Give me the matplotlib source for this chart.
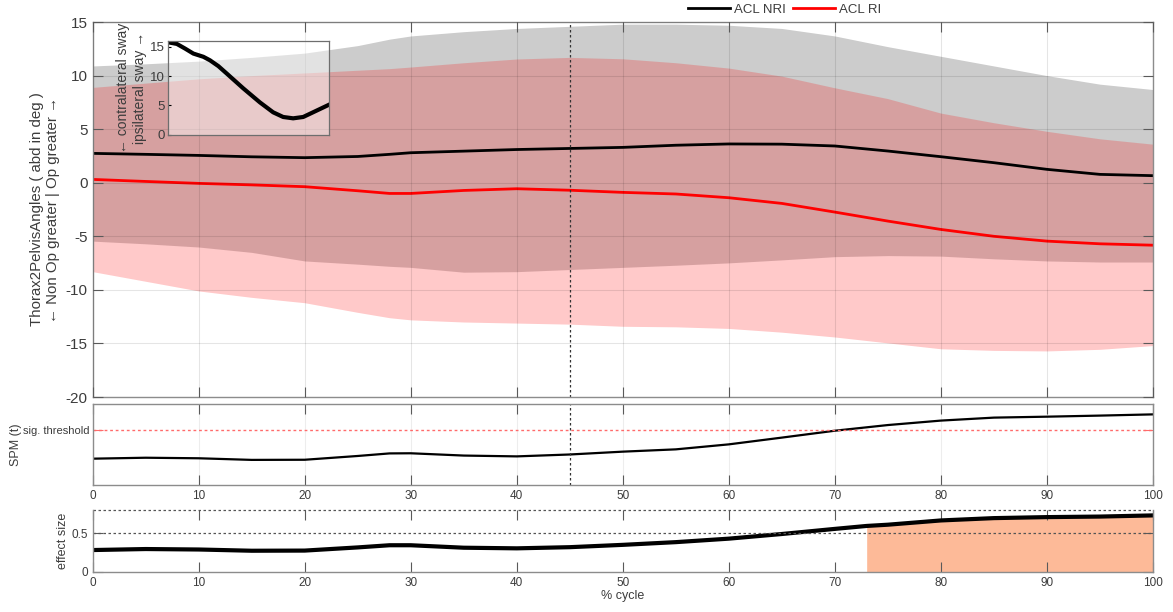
import numpy as np
import matplotlib
matplotlib.use("Agg")
import matplotlib.pyplot as plt
from matplotlib.lines import Line2D

plt.rcParams['font.family'] = ['Liberation Sans', 'DejaVu Sans']
plt.rcParams['axes.unicode_minus'] = False

# % cycle sample points
cycle = [0, 5, 10, 15, 20, 25, 28, 30, 35, 40, 45, 50, 55, 60, 65, 70, 75, 80, 85, 90, 95, 100]

# ACL NRI (mean, mean+sd, mean-sd)
nri_mean = [2.74, 2.65, 2.55, 2.42, 2.34, 2.45, 2.65, 2.8, 2.95, 3.1, 3.2, 3.3, 3.5, 3.62, 3.6, 3.43, 2.96, 2.43, 1.87, 1.25, 0.78, 0.66]
nri_upper = [10.9, 11.1, 11.35, 11.7, 12.1, 12.8, 13.4, 13.7, 14.1, 14.4, 14.6, 14.8, 14.8, 14.7, 14.4, 13.7, 12.7, 11.8, 10.9, 10.0, 9.2, 8.7]
nri_lower = [-5.45, -5.7, -6.0, -6.5, -7.3, -7.6, -7.8, -7.9, -8.35, -8.3, -8.1, -7.9, -7.7, -7.48, -7.2, -6.9, -6.8, -6.85, -7.1, -7.3, -7.4, -7.4]

# ACL RI
ri_mean = [0.31, 0.12, -0.06, -0.2, -0.37, -0.75, -1.0, -1.0, -0.72, -0.56, -0.7, -0.9, -1.05, -1.4, -1.93, -2.74, -3.58, -4.36, -5.0, -5.45, -5.7, -5.83]
ri_upper = [8.9, 9.3, 9.7, 10.0, 10.25, 10.5, 10.65, 10.8, 11.2, 11.55, 11.7, 11.57, 11.2, 10.7, 9.95, 8.86, 7.85, 6.5, 5.6, 4.8, 4.1, 3.6]
ri_lower = [-8.3, -9.2, -10.1, -10.7, -11.2, -12.1, -12.6, -12.8, -13.0, -13.1, -13.2, -13.4, -13.45, -13.6, -13.95, -14.4, -14.95, -15.5, -15.65, -15.7, -15.55, -15.2]

# SPM{t}
spm_t = [0.45, 0.52, 0.48, 0.36, 0.37, 0.65, 0.84, 0.85, 0.68, 0.62, 0.76, 0.97, 1.14, 1.51, 2.01, 2.52, 2.94, 3.27, 3.49, 3.56, 3.64, 3.73]
spm_threshold = 2.6
spm_ylim = (-1.5, 4.5)

# effect size
es_cycle = [0, 5, 10, 15, 20, 25, 28, 30, 35, 40, 45, 50, 55, 60, 65, 70, 73, 75, 80, 85, 90, 95, 100]
es_value = [0.283, 0.296, 0.29, 0.274, 0.276, 0.317, 0.345, 0.345, 0.313, 0.305, 0.32, 0.35, 0.385, 0.43, 0.49, 0.556, 0.594, 0.61, 0.665, 0.695, 0.708, 0.715, 0.73]
es_ref = 0.5
es_top = 0.8
sig_start = 73

# inset curve
inset_x = [0, 5.8, 10.9, 16, 22.2, 26.3, 31.5, 36.6, 46.9, 57.2, 65.4, 71.6, 77.8, 84, 90.1, 100]
inset_y = [15.8, 15.5, 14.7, 13.85, 13.3, 12.7, 11.7, 10.45, 7.9, 5.5, 3.8, 3.0, 2.77, 3.0, 3.8, 5.1]

event_x = 45
xticks = list(range(0, 101, 10))

spine_c = '#8c8c8c'
text_c = '#3c3c3c'


def style_axes(a, fs):
    for s in a.spines.values():
        s.set_color(spine_c)
        s.set_linewidth(1.0)
    a.tick_params(direction='in', length=7, width=0.8, color='#5a5a5a',
                  top=True, right=True, labelcolor=text_c, labelsize=fs)


fig = plt.figure(figsize=(11.73, 6.12), dpi=100)

# main panel
ax = fig.add_axes([0.0790, 0.3513, 0.9039, 0.6127])
ax.fill_between(cycle, nri_lower, nri_upper, color='#cccccc', lw=0)
ax.plot(cycle, nri_mean, color='black', lw=2.0)
ax.fill_between(cycle, ri_lower, ri_upper, color='red', alpha=0.21, lw=0)
ax.plot(cycle, ri_mean, color='red', lw=2.0)
ax.axvline(event_x, color='#333333', lw=0.9, ls=(0, (2, 2)))
ax.set_xlim(0, 100)
ax.set_ylim(-20, 15)
ax.set_xticks(xticks)
ax.set_xticklabels([])
ax.set_yticks(range(-20, 16, 5))
ax.set_axisbelow(False)
ax.grid(True, color='black', alpha=0.1, lw=0.8)
style_axes(ax, 11)
ax.set_ylabel('Thorax2PelvisAngles ( abd in deg )\n\u2190 Non Op greater | Op greater \u2192',
              fontsize=10.8, color=text_c, labelpad=4)

# inset
axi = fig.add_axes([0.1428, 0.7802, 0.1377, 0.1528])
axi.set_facecolor((1, 1, 1, 0.45))
axi.plot(inset_x, inset_y, color='black', lw=3.0)
axi.set_xlim(0, 100)
axi.set_ylim(0, 16)
axi.set_xticks([])
axi.set_yticks([0, 5, 10, 15])
for s in axi.spines.values():
    s.set_color('#6e6e6e')
    s.set_linewidth(0.9)
axi.tick_params(axis='y', direction='in', length=2, labelsize=9.5, labelcolor=text_c, pad=2)
axi.set_ylabel('\u2190 contralateral sway\nipsilateral sway \u2192', fontsize=10,
               color=text_c, labelpad=2, linespacing=1.25)

# SPM panel
ax2 = fig.add_axes([0.0790, 0.2075, 0.9039, 0.1324])
ax2.plot(cycle, spm_t, color='black', lw=1.6)
ax2.axhline(spm_threshold, color='#ff6b6b', lw=1.0, ls=(0, (2, 2)))
ax2.axvline(event_x, color='#333333', lw=0.9, ls=(0, (2, 2)))
ax2.set_xlim(0, 100)
ax2.set_ylim(*spm_ylim)
ax2.set_xticks(xticks)
ax2.set_yticks([spm_threshold])
ax2.set_yticklabels(['sig. threshold'])
ax2.grid(True, axis='x', color='black', alpha=0.07, lw=0.8)
style_axes(ax2, 8.5)
ax2.tick_params(axis='y', labelsize=8, pad=2)
ax2.tick_params(axis='y', which='both', color='#ff6b6b')
ax2.set_ylabel('SPM (t)', fontsize=9, color=text_c, labelpad=1)

# effect size panel
ax3 = fig.add_axes([0.0790, 0.0654, 0.9039, 0.1013])
es_x = np.array(es_cycle)
es_v = np.array(es_value)
ax3.fill_between(es_x, 0, es_v, where=es_x >= sig_start, color='#fdba98', lw=0)
ax3.plot(es_cycle, es_value, color='black', lw=3.0)
ax3.axhline(es_ref, color='#555555', lw=0.9, ls=(0, (2, 2)))
ax3.axhline(es_top, color='#555555', lw=0.9, ls=(0, (2, 2)), clip_on=False)
ax3.set_xlim(0, 100)
ax3.set_ylim(0, es_top)
ax3.set_xticks(xticks)
ax3.set_yticks([0, es_ref])
ax3.set_yticklabels(['0', '0.5'])
style_axes(ax3, 8.5)
ax3.spines['top'].set_visible(False)
ax3.set_ylabel('effect size', fontsize=9, color=text_c, labelpad=2)
ax3.set_xlabel('% cycle', fontsize=9, color=text_c, labelpad=1)

handles = [Line2D([], [], color='black', lw=2.0), Line2D([], [], color='red', lw=2.0)]
fig.legend(handles, ['ACL NRI', 'ACL RI'], loc='center', bbox_to_anchor=(0.669, 0.984),
           ncol=2, frameon=False, handlelength=3.2, columnspacing=0.5,
           handletextpad=0.3, fontsize=9.5, labelcolor=text_c)

fig.savefig('out.png', dpi=100)
